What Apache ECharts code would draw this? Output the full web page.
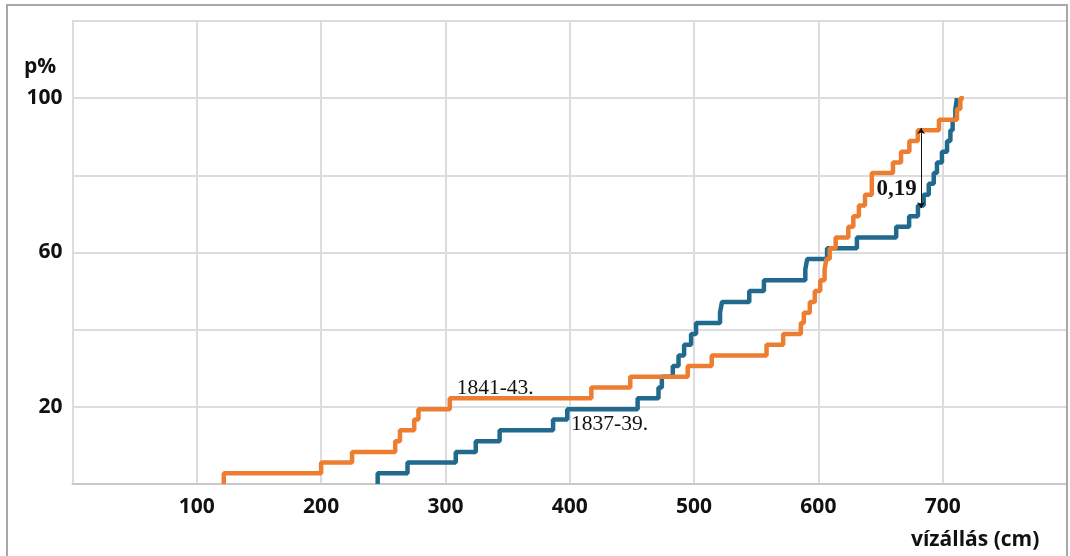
<!DOCTYPE html>
<html>
<head>
<meta charset="utf-8">
<script src="https://cdn.jsdelivr.net/npm/echarts@6/dist/echarts.min.js"></script>
<style>
html,body{margin:0;padding:0;background:#fff;}
#chart{width:1070px;height:556px;}
</style>
</head>
<body>
<div id="chart"></div>
<script>
// Levels of the empirical distribution (p%), step k of 36
const levels = [2.8,5.6,8.3,11.1,13.9,16.7,19.4,22.2,25.0,27.8,30.6,33.3,36.1,38.9,41.7,44.4,47.2,50.0,52.8,55.6,58.3,61.1,63.9,66.7,69.4,72.2,75.0,77.8,80.6,83.3,86.1,88.9,91.7,94.4,97.2,100];
// 1837-39 (blue): water levels (cm) at which each step occurs
const blueX = [245.5,269.5,308.3,324.4,343.6,386.6,398,454.6,471.4,474.1,482.9,487.5,492,497.6,501.6,520.9,522.5,544.4,556.2,589.5,591,607,631,662.6,673,680.1,684.7,688.8,692.8,695.4,699.4,703.5,706.2,708,710.2,711.5];
// 1841-43 (orange)
const orangeX = [121.7,200,224.9,259.6,263.4,274.9,278.3,303.5,417.4,448.7,494.9,514.2,558.3,571.7,585.9,588.3,593.1,597.1,601.5,605,606.4,609.1,613.9,624.1,628.1,632.6,637.5,643,643,660,666.5,673.2,680,697,711.5,714.2];
const orangeEnd = 717;
const xTicks = [100,200,300,400,500,600,700];
const yTicks = [20,60,100];
const seriesNames = ['1837-39.','1841-43.'];
// annotation anchors (value coords)
const labelBlue = [432, 15.5];
const labelOrange = [340, 24.9];
const diffText = '0,19';
const diffPos = [663, 76.5];
const diffLine = [682.6, 92.3, 71.5];

function stepData(xs, endX) {
  const d = [[xs[0], 0]];
  xs.forEach((x, i) => d.push([x, levels[i]]));
  if (endX != null) d.push([endX, 100]);
  return d;
}

const chart = echarts.init(document.getElementById('chart'), null, {renderer:'canvas'});
const labelFont = {fontFamily:'"Open Sans", sans-serif', fontWeight:'bold', fontSize:21, color:'#111'};
chart.setOption({
  animation:false,
  backgroundColor:'#fff',
  grid:{left:72.5, right:1.5, top:21, bottom:72, containLabel:false},
  xAxis:{
    type:'value', min:0, max:800, interval:100,
    axisLine:{show:true, lineStyle:{color:'#c8c8c8', width:2}},
    axisTick:{show:false},
    splitLine:{show:true, lineStyle:{color:'#dcdcdc', width:2}},
    axisLabel:Object.assign({margin:13, formatter:v => xTicks.includes(v) ? String(v) : ''}, labelFont)
  },
  yAxis:{
    type:'value', min:0, max:120, interval:20,
    axisLine:{show:true, lineStyle:{color:'#dcdcdc', width:2}},
    axisTick:{show:false},
    splitLine:{show:true, lineStyle:{color:'#dcdcdc', width:2}},
    axisLabel:Object.assign({margin:10, formatter:v => yTicks.includes(v) ? String(v) : ''}, labelFont)
  },
  graphic:[
    {type:'rect', shape:{x:7, y:5, width:1060, height:600}, style:{fill:'none', stroke:'#a8a8a8', lineWidth:2}, silent:true, z:100},
    {type:'text', left:24, top:57, style:{text:'p%', font:'bold 21px "Open Sans", sans-serif', fill:'#111'}},
    {type:'text', left:911, top:530, style:{text:'vízállás (cm)', font:'bold 21px "Open Sans", sans-serif', fill:'#111'}}
  ],
  series:[
    {
      name:seriesNames[0], type:'line', step:'end', showSymbol:false, silent:true,
      data:stepData(blueX, null),
      lineStyle:{color:'#21698D', width:4.5},
      itemStyle:{color:'#21698D'},
      markPoint:{
        symbol:'circle', symbolSize:0, silent:true,
        data:[{coord:labelBlue, value:seriesNames[0]}],
        label:{show:true, position:'inside', formatter:seriesNames[0], fontFamily:'"Liberation Serif", serif', fontSize:21.5, color:'#111'}
      }
    },
    {
      name:seriesNames[1], type:'line', step:'end', showSymbol:false, silent:true,
      data:stepData(orangeX, orangeEnd),
      lineStyle:{color:'#ED7D31', width:4.5},
      itemStyle:{color:'#ED7D31'},
      markPoint:{
        symbol:'circle', symbolSize:0, silent:true,
        data:[
          {coord:labelOrange, value:seriesNames[1], label:{formatter:seriesNames[1], fontWeight:'normal'}},
          {coord:diffPos, value:diffText, label:{formatter:diffText, fontWeight:'bold', fontSize:23}}
        ],
        label:{show:true, position:'inside', fontFamily:'"Liberation Serif", serif', fontSize:21.5, color:'#111'}
      },
      markLine:{
        silent:true, symbol:['arrow','arrow'], symbolSize:6,
        label:{show:false},
        lineStyle:{color:'#111', width:1, type:'solid'},
        data:[[{coord:[diffLine[0], diffLine[1]]},{coord:[diffLine[0], diffLine[2]]}]]
      }
    }
  ]
});
</script>
</body>
</html>
